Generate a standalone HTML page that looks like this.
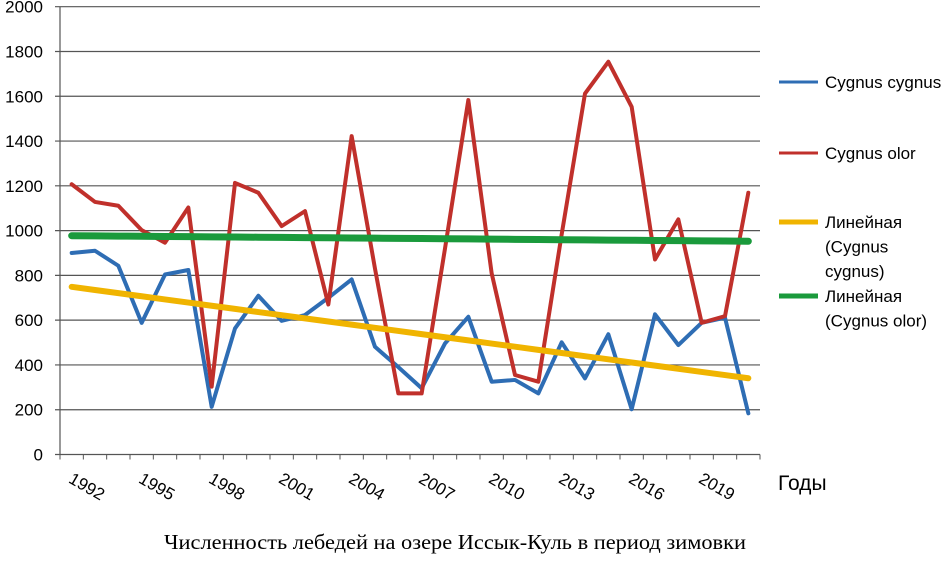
<!DOCTYPE html>
<html><head><meta charset="utf-8"><style>
body{margin:0;background:#fff;width:947px;height:556px;overflow:hidden}
text{font-family:"Liberation Sans",sans-serif;fill:#000}
</style></head><body>
<svg width="947" height="556">
<g id="grid"></g><g id="axes"></g><g id="series"></g><g id="legend"></g>
<text x="778" y="490" font-size="21">Годы</text>
<text x="455" y="549" text-anchor="middle" font-size="21" textLength="582" lengthAdjust="spacingAndGlyphs" style="font-family:'Liberation Serif',serif">Численность лебедей на озере Иссык-Куль в период зимовки</text>
</svg>
<script>
const years=[1992,1993,1994,1995,1996,1997,1998,1999,2000,2001,2002,2003,2004,2005,2006,2007,2008,2009,2010,2011,2012,2013,2014,2015,2016,2017,2018,2019,2020,2021];
const cygnus=[900,910,843,588,804,824,213,563,709,597,623,700,782,481,390,296,496,615,325,333,273,501,340,537,202,626,489,588,611,184];
const olor=[1207,1128,1111,1002,946,1103,303,1213,1169,1020,1087,670,1422,830,273,273,920,1583,809,355,325,983,1612,1754,1553,871,1050,588,618,1169];
const yTicks=[0,200,400,600,800,1000,1200,1400,1600,1800,2000];
const xLabels=[1992,1995,1998,2001,2004,2007,2010,2013,2016,2019];
const NS="http://www.w3.org/2000/svg";
const L=60,R=760,n=years.length,step=(R-L)/n;
const X=i=>L+step*(i+0.5);
const Y=v=>454.5-v*0.2239;
function mk(tag,attrs,parent){const e=document.createElementNS(NS,tag);for(const k in attrs)e.setAttribute(k,attrs[k]);document.getElementById(parent).appendChild(e);return e;}
yTicks.forEach(v=>{
 const l=mk('line',{x1:L-5,x2:R,y1:Y(v),y2:Y(v),stroke:'#555','stroke-width':1.2},'grid');
 
 
 const t=mk('text',{x:43,y:Y(v)+6,'text-anchor':'end','font-size':17},'axes');t.textContent=v;
 
 
});
const ax=mk('line',{x1:L,x2:L,y1:Y(2000),y2:Y(0),stroke:'#555','stroke-width':1.2},'axes');


for(let i=0;i<=n;i++){const t=mk('line',{x1:L+step*i,x2:L+step*i,y1:Y(0),y2:Y(0)+5,stroke:'#555'},'axes');
 
 }
xLabels.forEach(yr=>{const i=years.indexOf(yr);const x=X(i)-4,y=482;
 const t=mk('text',{x:x,y:y,'font-size':17,transform:`rotate(30 ${x} ${y})`},'axes');t.textContent=yr;
 
 });
function line(vals,color,w,name){const p=mk('polyline',{points:vals.map((v,i)=>X(i)+','+Y(v)).join(' '),fill:'none',stroke:color,'stroke-width':w,'stroke-linejoin':'round','stroke-linecap':'round'},'series');
 
 }
function trend(vals){const m=vals.length;let sx=0,sy=0,sxx=0,sxy=0;vals.forEach((v,i)=>{sx+=i;sy+=v;sxx+=i*i;sxy+=i*v});const b=(m*sxy-sx*sy)/(m*sxx-sx*sx),a=(sy-b*sx)/m;return vals.map((v,i)=>a+b*i);}
line(cygnus,'#2e6db4',4,'series-cygnus-cygnus');
line(olor,'#c0302b',4,'series-cygnus-olor');
line(trend(olor),'#1a9a3c',7,'trend-cygnus-olor');
line(trend(cygnus),'#f0b400',6,'trend-cygnus-cygnus');
const leg=[['#2e6db4',82,['Cygnus cygnus'],3],['#c0302b',153,['Cygnus olor'],3],['#f0b400',222,['Линейная','(Cygnus','cygnus)'],5],['#1a9a3c',296,['Линейная','(Cygnus olor)'],5]];
leg.forEach(([c,y,lines,w],k)=>{
 const l=mk('line',{x1:779,x2:818,y1:y,y2:y,stroke:c,'stroke-width':w},'legend');
 
 
 lines.forEach((s,j)=>{const t=mk('text',{x:825,y:y+6+j*24.5,'font-size':17},'legend');t.textContent=s;
 
 });
});
</script>
</body></html>
